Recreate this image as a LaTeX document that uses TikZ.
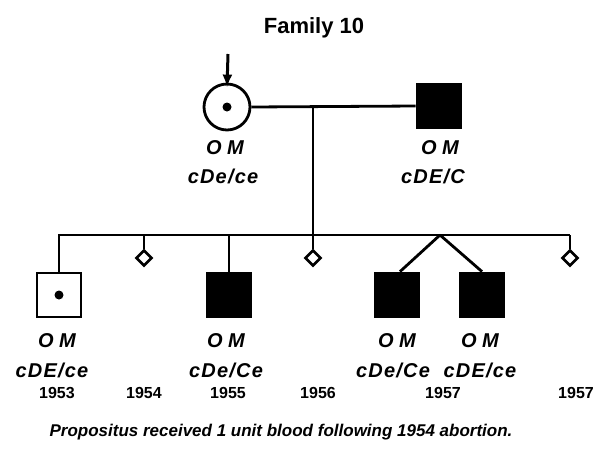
\documentclass[tikz,border=0pt]{standalone}
\usepackage{fontspec}
\setmainfont{Liberation Sans}
\usetikzlibrary{shapes.geometric,arrows.meta}
\begin{document}
\begin{tikzpicture}[x=1pt,y=-1pt, line width=2.8pt,
 sq/.style={draw, rectangle, minimum size=44pt, inner sep=0pt, line width=2.8pt},
 aff/.style={sq, fill=black},
 fem/.style={draw, circle, minimum size=46pt, inner sep=0pt, line width=2.8pt},
 ab/.style={draw, diamond, minimum size=16pt, inner sep=0pt, line width=2.6pt, fill=white},
 pt/.style={circle, fill=black, minimum size=9pt, inner sep=0pt},
 om/.style={font=\fontsize{20}{20}\selectfont\bfseries\itshape, inner sep=0pt},
 gt/.style={font=\fontsize{20}{20}\selectfont\bfseries\itshape\addfontfeature{LetterSpace=6}, inner sep=0pt},
 yr/.style={font=\fontsize{16}{16}\selectfont\bfseries, inner sep=0pt},
 ttl/.style={font=\fontsize{22}{22}\selectfont\bfseries, inner sep=0pt},
 captext/.style={font=\fontsize{17}{17}\selectfont\bfseries\itshape, inner sep=0pt}]
\useasboundingbox (0,0) rectangle (593,448);

\node[ttl] (title) at (314,28) {Family 10};

% parents
\node[fem] (m) at (227,107) {};
\node[pt] (mdot) at (m.center) {};
\node[aff] (f) at (439,106) {};
\coordinate (arrtop) at (228,54);
\draw[-{Latex[length=13pt,width=10pt]}, line width=3pt] (arrtop) -- ([yshift=-5pt]m.north);
\draw (m.east) -- (f.west);
\coordinate (mar) at (313,106);
\coordinate (sibM) at (313,235);
\draw (mar) -- (sibM);

\node[om] (mom) at (225,148) {O M};
\node[gt] (mgt) at (223,176) {cDe/ce};
\node[om] (fom) at (440,148) {O M};
\node[gt] (fgt) at (433,176) {cDE/C};

% sibship
\coordinate (sibL) at (58,235);
\coordinate (sibR) at (570,235);
\draw (sibL) -- (sibR);

\node[sq] (c1) at (59,295) {};
\node[pt] (c1dot) at (c1.center) {};
\node[ab] (d1) at (144,258) {};
\node[aff] (c2) at (229,295) {};
\node[ab] (d2) at (313,258) {};
\node[aff] (c3) at (397,295) {};
\node[aff] (c4) at (482,295) {};
\node[ab] (d3) at (570,258) {};

\coordinate (s1) at (59,235);
\coordinate (s2) at (144,235);
\coordinate (s3) at (229,235);
\coordinate (tw) at (440,235);
\draw (s1) -- (c1.north);
\draw (s2) -- (d1.north);
\draw (s3) -- (c2.north);
\draw (sibM) -- (d2.north);
\draw (sibR) -- (d3.north);
\draw (tw) -- ([xshift=3pt]c3.north);
\draw (tw) -- (c4.north);

% labels
\node[om] (c1om) at (57,341) {O M};
\node[gt] (c1gt) at (52,370) {cDE/ce};
\node[om] (c2om) at (226,341) {O M};
\node[gt] (c2gt) at (226,370) {cDe/Ce};
\node[om] (c3om) at (397,341) {O M};
\node[gt] (c3gt) at (393,370) {cDe/Ce};
\node[om] (c4om) at (480,341) {O M};
\node[gt] (c4gt) at (480,370) {cDE/ce};

\node[yr] (y1) at (57,393) {1953};
\node[yr] (y2) at (144,393) {1954};
\node[yr] (y3) at (228,393) {1955};
\node[yr] (y4) at (318,393) {1956};
\node[yr] (y5) at (443,393) {1957};
\node[yr] (y6) at (576,393) {1957};

\node[captext] (caption) at (281,432) {Propositus received 1 unit blood following 1954 abortion.};
\end{tikzpicture}
\end{document}
